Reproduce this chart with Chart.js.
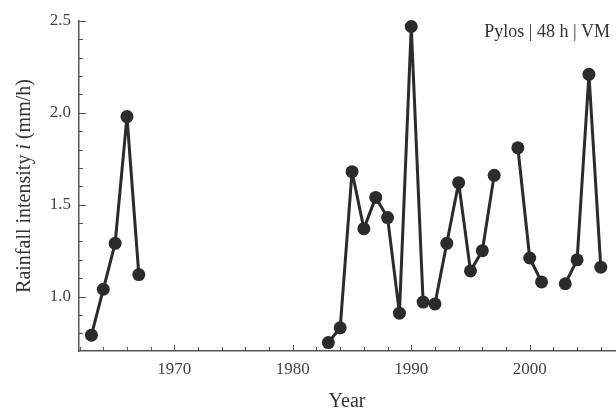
<!DOCTYPE html>
<html>
  <head>
    <script src="https://cdn.jsdelivr.net/npm/chart.js@4/dist/chart.umd.min.js"></script>
  </head>

  <body style="margin: 0; background: #fff">
    <div style="width: 616px; height: 410px; position: relative">
      <canvas id="canvas"></canvas>
    </div>
    <script>
      // years 1963..2006, null = no record
      const years = [];
      for (let y = 1963; y <= 2006; y++) years.push(y);
      const intensity = [
        0.79, 1.04, 1.29, 1.98, 1.12,
        null, null, null, null, null, null, null, null, null, null, null, null, null, null, null,
        0.75, 0.83, 1.68, 1.37, 1.54, 1.43, 0.91, 2.47, 0.97, 0.96,
        1.29, 1.62, 1.14, 1.25, 1.66, null, 1.81, 1.21, 1.08, null,
        1.07, 1.20, 2.21, 1.16,
      ];
      const xTicks = [1970, 1980, 1990, 2000];
      const yTicks = [1.0, 1.5, 2.0, 2.5];
      const label = 'Pylos | 48 h | VM';

      const serif = '"Liberation Serif", "DejaVu Serif", serif';
      const ink = '#2b2b2b';

      const decor = {
        id: 'decor',
        afterDraw(chart) {
          const { ctx, chartArea } = chart;
          const xs = chart.scales.x, ys = chart.scales.y;
          ctx.save();
          ctx.strokeStyle = '#555';
          ctx.lineWidth = 1;
          // inward tick marks
          for (let yr = 1962; yr <= 2006; yr += 2) {
            const px = Math.round(xs.getPixelForValue(yr)) + 0.5;
            const len = yr % 10 === 0 ? 6 : 4;
            ctx.beginPath();
            ctx.moveTo(px, chartArea.bottom);
            ctx.lineTo(px, chartArea.bottom - len);
            ctx.stroke();
          }
          for (let i = 8; i <= 25; i++) {
            const py = Math.round(ys.getPixelForValue(i / 10)) + 0.5;
            const len = i % 5 === 0 ? 7 : 4;
            ctx.beginPath();
            ctx.moveTo(chartArea.left, py);
            ctx.lineTo(chartArea.left + len, py);
            ctx.stroke();
          }

          ctx.fillStyle = '#333';
          // x title
          ctx.font = '20px ' + serif;
          ctx.textAlign = 'center';
          ctx.textBaseline = 'middle';
          ctx.fillText('Year', (chartArea.left + chartArea.right) / 2, 402);

          // y title with italic i
          const parts = [
            ['Rainfall intensity ', '20px ' + serif],
            ['i', 'italic 20px ' + serif],
            [' (mm/h)', '20px ' + serif],
          ];
          let total = 0;
          parts.forEach((p) => { ctx.font = p[1]; total += ctx.measureText(p[0]).width; });
          ctx.translate(25, (chartArea.top + chartArea.bottom) / 2);
          ctx.rotate(-Math.PI / 2);
          ctx.textAlign = 'left';
          let cx = -total / 2;
          parts.forEach((p) => {
            ctx.font = p[1];
            ctx.fillText(p[0], cx, 0);
            cx += ctx.measureText(p[0]).width;
          });
          ctx.restore();

          ctx.save();
          ctx.fillStyle = '#333';
          ctx.font = '18px ' + serif;
          ctx.textAlign = 'right';
          ctx.textBaseline = 'alphabetic';
          ctx.fillText(label, 610, 37);
          ctx.restore();
        },
      };

      new Chart(document.getElementById('canvas').getContext('2d'), {
        type: 'line',
        data: {
          datasets: [
            {
              data: years.map((yr, i) => ({ x: yr, y: intensity[i] })),
              borderColor: ink,
              backgroundColor: ink,
              borderWidth: 3,
              borderJoinStyle: 'round',
              pointRadius: 6.5,
              pointBackgroundColor: ink,
              pointBorderColor: ink,
              pointBorderWidth: 0,
              spanGaps: false,
              clip: false,
            },
          ],
        },
        options: {
          responsive: true,
          maintainAspectRatio: false,
          animation: false,
          layout: { autoPadding: false, padding: { top: 21, right: 1, left: 0, bottom: 0 } },
          plugins: { legend: { display: false }, tooltip: { enabled: false } },
          scales: {
            x: {
              type: 'linear',
              min: 1961.95,
              max: 2007.2,
              afterBuildTicks: (s) => { s.ticks = xTicks.map((v) => ({ value: v })); },
              afterFit: (s) => { s.height = 59; },
              grid: { display: false, drawTicks: false },
              border: { display: true, color: '#555', width: 1.5 },
              ticks: {
                padding: 8,
                color: '#444',
                font: { family: serif, size: 17 },
                callback: (v) => String(v),
              },
            },
            y: {
              min: 0.704,
              max: 2.5,
              afterBuildTicks: (s) => { s.ticks = yTicks.map((v) => ({ value: v })); },
              afterFit: (s) => { s.width = 79; },
              grid: { display: false, drawTicks: false },
              border: { display: true, color: '#555', width: 1.5 },
              ticks: {
                padding: 8,
                color: '#444',
                font: { family: serif, size: 17 },
                callback: (v) => v.toFixed(1),
              },
            },
          },
        },
        plugins: [decor],
      });
    </script>
  </body>
</html>
